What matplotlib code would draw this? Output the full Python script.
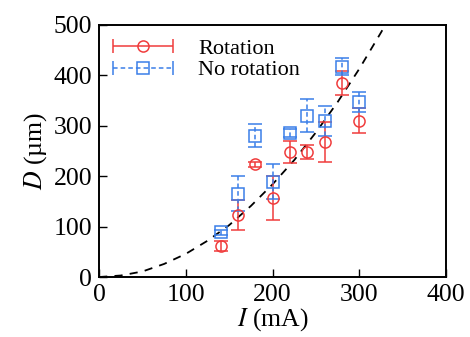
import numpy as np
import matplotlib
matplotlib.use('Agg')
import matplotlib.pyplot as plt
from matplotlib.container import ErrorbarContainer
from matplotlib.legend_handler import HandlerErrorbar

plt.rcParams['font.family'] = 'Liberation Serif'
plt.rcParams['mathtext.fontset'] = 'stix'
plt.rcParams['font.size'] = 18.5

# data
current = [140, 160, 180, 200, 220, 240, 260, 280, 300]
d_rot = [62, 123, 224, 157, 248, 248, 268, 385, 310]
err_rot = [10, 30, 5, 43, 21, 13, 40, 23, 25]
d_norot = [89, 165, 280, 189, 286, 320, 310, 417, 347]
err_norot = [5, 35, 23, 35, 8, 33, 30, 17, 20]

# dashed guide curve
fit_i = [0, 25, 50, 75, 100, 125, 150, 175, 200, 225, 250, 275, 300, 325, 332]
fit_d = [0, 3, 11, 26, 46, 72, 103, 141, 184, 232, 287, 347, 413, 485, 506]

red = '#f03c3c'
blue = '#3a7ee8'

fig = plt.figure(figsize=(4.7, 3.37), dpi=100)
ax = fig.add_axes([0.211, 0.178, 0.738, 0.748])

ax.plot(fit_i, fit_d, color='black', linestyle=(0, (4.5, 4)), linewidth=1.3)

eb1 = ax.errorbar(current, d_rot, yerr=err_rot, fmt='o', color=red, mfc='none',
                  mec=red, ms=8, mew=1.1, elinewidth=1.1, capsize=5, capthick=1.1)
eb2 = ax.errorbar(current, d_norot, yerr=err_norot, fmt='s', color=blue, mfc='none',
                  mec=blue, ms=8, mew=1.1, elinewidth=1.1, capsize=5, capthick=1.1)
for c in eb2[2]:
    c.set_linestyle((0, (3, 2)))

# legend handles with horizontal bars
h1 = ax.errorbar([np.nan], [np.nan], xerr=[1], fmt='o', color=red, mfc='none',
                 mec=red, ms=8, mew=1.1, elinewidth=1.1, capsize=5, capthick=1.1)
h2 = ax.errorbar([np.nan], [np.nan], xerr=[1], fmt='s', color=blue, mfc='none',
                 mec=blue, ms=8, mew=1.1, elinewidth=1.1, capsize=5, capthick=1.1)
for c in h2[2]:
    c.set_linestyle((0, (3, 2)))

ax.legend([h1, h2], ['Rotation', 'No rotation'], loc='upper left', frameon=False,
          handlelength=2.75, handletextpad=1.1, labelspacing=0.05,
          borderaxespad=0.2, fontsize=16,
          handler_map={ErrorbarContainer: HandlerErrorbar(xerr_size=1.35)})

ax.set_xlim(0, 400)
ax.set_ylim(0, 500)
ax.set_xticks([0, 100, 200, 300, 400])
ax.set_yticks([0, 100, 200, 300, 400, 500])
ax.tick_params(direction='in', length=6, width=1, top=False, right=False, pad=5)
for s in ax.spines.values():
    s.set_linewidth(1.4)

ax.set_xlabel(r'$I$ (mA)', labelpad=0)
ax.set_ylabel(r'$D$ (µm)', labelpad=3)

fig.savefig('out.png', dpi=100)
